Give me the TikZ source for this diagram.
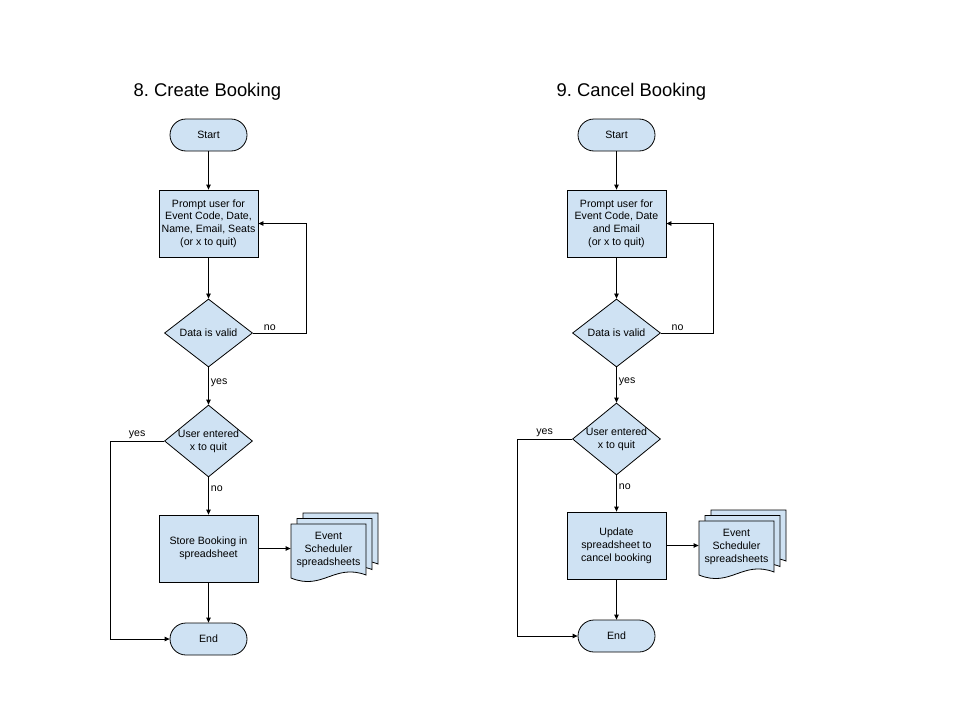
\documentclass[tikz,border=0pt]{standalone}
\usepackage{fontspec}
\setmainfont{Liberation Sans}
\usetikzlibrary{arrows.meta,shapes.geometric}
\definecolor{boxblue}{HTML}{CFE2F3}
\frenchspacing

\begin{document}
\begin{tikzpicture}[x=1pt, y=-1pt, line width=0.8pt,
  font=\fontsize{10.6}{12.8}\selectfont,
  term/.style={draw, fill=boxblue, rounded corners=16pt, minimum width=77pt, minimum height=32pt, inner sep=0pt},
  proc/.style={draw, fill=boxblue, minimum width=99pt, minimum height=67pt, inner sep=2pt, align=center},
  dec/.style={diamond, draw, fill=boxblue, minimum width=88pt, minimum height=68pt, inner sep=-3pt, align=center},
  docs/.style={minimum width=75pt, minimum height=50pt, inner sep=0pt, align=center},
  title/.style={anchor=base west, font=\fontsize{18.4}{22}\selectfont},
  lab/.style={inner sep=2pt},
  arr/.style={-{Triangle[length=5pt, width=4.5pt]}}]
\useasboundingbox (0,0) rectangle (953,712);
% stacked spreadsheets, back to front
\foreach \cx/\cy in {328.5/550, 736.5/547} {
  \foreach \k in {2,1,0} {
    \draw[fill=boxblue, shift={(\cx+6*\k,\cy-5.5*\k)}]
      (-37.5,28) -- (-37.5,-26) -- (37.5,-26) -- (37.5,25)
      .. controls (6,13) and (-6,41) .. (-37.5,28) -- cycle;
  }
}
% create booking
\node[title] (head1) at (130,96.5) {8. Create Booking};
\node[term] (start1) at (208.5,135) {Start};
\node[proc] (prompt1) at (208.5,223.5) {Prompt user for\\Event Code, Date,\\Name, Email, Seats\\(or x to quit)};
\node[dec] (valid1) at (208.5,333) {Data is valid};
\node[dec] (quit1) at (208.5,441) {User entered\\x to quit};
\node[proc] (store1) at (208.5,548.5) {Store Booking in\\spreadsheet};
\node[docs] (docs1) at (328.5,550) {Event\\Scheduler\\spreadsheets};
\node[term] (end1) at (208.5,639) {End};
\draw[arr] (start1) -- (prompt1);
\draw[arr] (prompt1) -- (valid1);
\draw[arr] (valid1.east) -- node[lab, above, pos=0.32] {no} ++(53,0) |- (prompt1.east);
\draw[arr] (valid1) -- node[lab, right, pos=0.4] {yes} (quit1);
\draw[arr] (quit1.west) -- node[lab, above] {yes} ++(-54,0) |- (end1.west);
\draw[arr] (quit1) -- node[lab, right, pos=0.3] {no} (store1);
\draw[arr] (store1.east) -- (store1.east -| docs1.west);
\draw[arr] (store1) -- (end1);
% cancel booking
\node[title] (head2) at (553,96.5) {9. Cancel Booking};
\node[term] (start2) at (616.5,135) {Start};
\node[proc] (prompt2) at (616.5,223.5) {Prompt user for\\Event Code, Date\\and Email\\(or x to quit)};
\node[dec] (valid2) at (616.5,333) {Data is valid};
\node[dec] (quit2) at (616.5,439) {User entered\\x to quit};
\node[proc] (update2) at (616.5,545.5) {Update\\spreadsheet to\\cancel booking};
\node[docs] (docs2) at (736.5,547) {Event\\Scheduler\\spreadsheets};
\node[term] (end2) at (616.5,636) {End};
\draw[arr] (start2) -- (prompt2);
\draw[arr] (prompt2) -- (valid2);
\draw[arr] (valid2.east) -- node[lab, above, pos=0.32] {no} ++(52,0) |- (prompt2.east);
\draw[arr] (valid2) -- node[lab, right, pos=0.4] {yes} (quit2);
\draw[arr] (quit2.west) -- node[lab, above] {yes} ++(-55,0) |- (end2.west);
\draw[arr] (quit2) -- node[lab, right, pos=0.3] {no} (update2);
\draw[arr] (update2.east) -- (update2.east -| docs2.west);
\draw[arr] (update2) -- (end2);
\end{tikzpicture}
\end{document}
